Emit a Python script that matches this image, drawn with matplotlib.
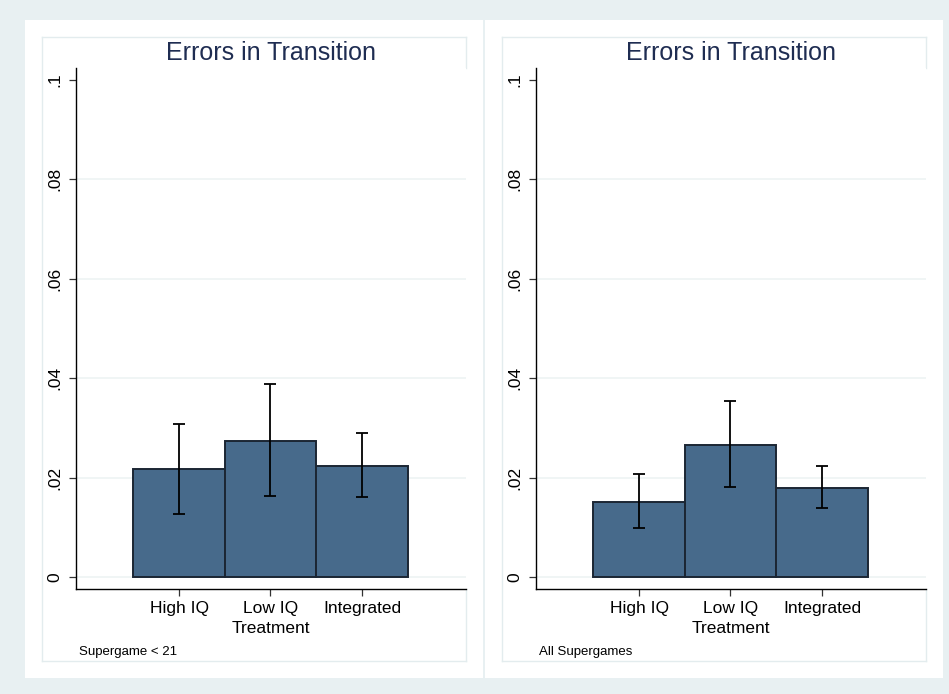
import matplotlib
matplotlib.use("Agg")
import matplotlib.pyplot as plt
from matplotlib.patches import Rectangle
from matplotlib.lines import Line2D

plt.rcParams['font.family'] = ['Liberation Sans', 'DejaVu Sans']

# Data: error rates in transition by treatment, with confidence intervals
treatments = ["High IQ", "Low IQ", "Integrated"]

early_means = [0.0217, 0.0274, 0.0224]
early_lo = [0.0127, 0.0163, 0.0161]
early_hi = [0.0308, 0.0388, 0.0290]

all_means = [0.0152, 0.0266, 0.0180]
all_lo = [0.0099, 0.0181, 0.0138]
all_hi = [0.0208, 0.0354, 0.0223]

ytick_vals = [0, 0.02, 0.04, 0.06, 0.08, 0.1]
ytick_labels = ["0", ".02", ".04", ".06", ".08", ".1"]
grid_vals = [0, 0.02, 0.04, 0.06, 0.08]

panel_titles = ["Errors in Transition", "Errors in Transition"]
panel_notes = ["Supergame < 21", "All Supergames"]

W, H = 949, 694
BG = "#e8f0f2"
FRAME = "#e3ecee"
GRID = "#edf3f4"
BAR = "#476a8b"
BAR_EDGE = "#1b2633"
TITLE_COLOR = "#1f2d52"

fig = plt.figure(figsize=(W / 100, H / 100), dpi=100)
fig.patch.set_facecolor(BG)


def px_rect(x0, y0, x1, y1, **kw):
    """Rectangle given in pixel coords with origin at top-left."""
    fig.patches.append(Rectangle((x0 / W, 1 - y1 / H), (x1 - x0) / W, (y1 - y0) / H,
                                 transform=fig.transFigure, figure=fig, **kw))


def px_line(xs, ys, **kw):
    fig.lines.append(Line2D([v / W for v in xs], [1 - v / H for v in ys],
                            transform=fig.transFigure, figure=fig, **kw))


# white graph regions
px_rect(25, 20, 482.5, 678, facecolor="white", edgecolor="none", zorder=0)
px_rect(485, 20, 943, 678, facecolor="white", edgecolor="none", zorder=0)

# inner frames (right edge hidden behind the plot region)
for fx0, fx1 in [(42, 466), (502, 926)]:
    kw = dict(color=FRAME, linewidth=1, zorder=0.5)
    px_line([fx0, fx1], [37, 37], **kw)
    px_line([fx0, fx1], [661, 661], **kw)
    px_line([fx0, fx0], [37, 661], **kw)
    px_line([fx1, fx1], [37, 68], **kw)
    px_line([fx1, fx1], [589, 661], **kw)

panels = [
    (76, early_means, early_lo, early_hi),
    (536, all_means, all_lo, all_hi),
]

x = list(range(len(treatments)))

for i, (left_px, means, lo, hi) in enumerate(panels):
    ax = fig.add_axes([left_px / W, (H - 589) / H, 390 / W, 521 / H])
    ax.set_facecolor("white")
    ax.set_zorder(1)

    ax.bar(x, means, width=1.0, color=BAR, edgecolor=BAR_EDGE, linewidth=1.4, zorder=3)
    yerr = [[m - l for m, l in zip(means, lo)], [h - m for m, h in zip(means, hi)]]
    ax.errorbar(x, means, yerr=yerr, fmt="none", ecolor="black", elinewidth=1.3,
                capsize=4, capthick=1.3, zorder=4)

    ax.set_xlim(-1.126, 3.137)
    ax.set_ylim(-0.0024, 0.1024)

    ax.set_yticks(ytick_vals)
    ax.set_yticklabels(ytick_labels, rotation=90, va="center", fontsize=12.5)
    ax.set_xticks(x)
    ax.set_xticklabels(treatments, fontsize=12.5)
    ax.tick_params(axis="both", length=5, width=0.9, color="#333333", pad=4)
    ax.tick_params(axis="y", pad=5)

    for yv in grid_vals:
        ax.axhline(yv, color=GRID, linewidth=1.2, zorder=1)

    for s in ["top", "right"]:
        ax.spines[s].set_visible(False)
    for s in ["left", "bottom"]:
        ax.spines[s].set_linewidth(1.0)
        ax.spines[s].set_color("black")

    ax.set_xlabel("Treatment", fontsize=12.5, labelpad=3)
    ax.set_title(panel_titles[i], fontsize=18, color=TITLE_COLOR, pad=6)

    fig.text((left_px + 3) / W, 1 - 652 / H, panel_notes[i], fontsize=9.5,
             ha="left", va="center")

fig.savefig("out.png", dpi=100, facecolor=fig.get_facecolor())
